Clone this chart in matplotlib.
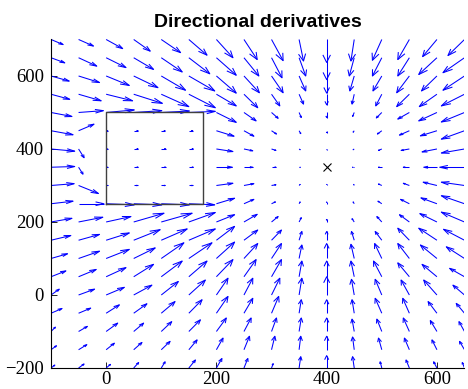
import numpy as np
import matplotlib
matplotlib.use('Agg')
import matplotlib.pyplot as plt
from matplotlib.collections import LineCollection

# grid where the derivatives were sampled
x_vals = [-100, -50, 0, 50, 100, 150, 200, 250, 300, 350, 400, 450, 500, 550, 600, 650]
y_vals = [700, 650, 600, 550, 500, 450, 400, 350, 300, 250, 200, 150, 100, 50, 0, -50, -100, -150, -200]

# x component, one row per y value (top to bottom)
u_rows = [
    [22, 27, 30, 30, 35, 33, 30, 24, 21, 8, 0, -6, -17, -21, -26, -30],
    [25, 33, 36, 36, 38, 38, 36, 27, 19, 12, 0, -9, -17, -21, -33, -39],
    [33, 38, 42, 44, 44, 47, 36, 28, 21, 12, 0, -8, -16, -23, -28, -39],
    [34, 41, 48, 52, 50, 48, 36, 25, 15, 8, 0, -4, -11, -23, -32, -42],
    [38, 45, 51, 51, 51, 48, 36, 22, 12, 4, 0, -3, -10, -21, -33, -42],
    [40, 28, 3, 8, 7, 7, 32, 18, 9, 3, 0, -2, -8, -18, -30, -42],
    [43, 10, 3, 8, 8, 8, 30, 16, 8, 2, 0, -2, -6, -15, -27, -42],
    [43, 8, 3, 8, 8, 8, 29, 16, 8, 2, 0, -3, -6, -11, -24, -45],
    [42, 36, 3, 7, 7, 7, 30, 18, 8, 2, 0, -1, -6, -11, -25, -42],
    [40, 46, 51, 51, 51, 47, 33, 18, 7, 2, 0, -2, -7, -16, -29, -42],
    [38, 44, 45, 55, 56, 48, 33, 24, 12, 4, 0, -4, -9, -18, -31, -42],
    [36, 38, 42, 48, 47, 48, 33, 25, 18, 5, 0, -5, -12, -21, -33, -38],
    [30, 38, 42, 39, 41, 42, 33, 25, 18, 5, 0, -6, -13, -21, -30, -33],
    [27, 32, 36, 36, 38, 33, 30, 22, 18, 5, 0, -6, -15, -21, -27, -27],
    [15, 29, 33, 33, 31, 30, 21, 16, 15, 5, 0, -5, -12, -15, -24, -21],
    [20, 22, 24, 24, 25, 24, 21, 16, 13, 4, 0, -4, -12, -12, -16, -15],
    [8, 16, 21, 18, 19, 21, 18, 13, 9, 4, 0, -4, -9, -11, -12, -10],
    [10, 15, 15, 15, 16, 15, 12, 10, 6, 3, 0, -3, -6, -9, -9, -9],
    [7, 10, 8, 9, 7, 12, 10, 7, 3, 3, 0, -3, -3, -6, -6, -4],
]

# y component, same layout
v_rows = [
    [-14, -18, -25, -32, -36, -43, -50, -55, -58, -59, -63, -59, -57, -55, -47, -44],
    [-14, -23, -27, -32, -39, -44, -48, -50, -55, -50, -60, -50, -50, -50, -46, -41],
    [-14, -18, -26, -32, -39, -41, -47, -46, -46, -41, -47, -41, -41, -46, -41, -39],
    [-14, -18, -18, -25, -34, -37, -32, -37, -32, -27, -29, -27, -32, -34, -34, -32],
    [-11, 5, 7, 5, 4, 3, -27, -23, -16, -14, -14, -11, -15, -18, -23, -26],
    [-11, 18, 0, 0, 0, 0, -15, -15, -9, -8, -5, -4, -9, -12, -14, -23],
    [-6, -24, 0, 0, 0, 0, -7, -5, -4, -2, -2, -2, -4, -4, -8, -11],
    [2, -19, 0, 0, 0, 0, 0, 0, 0, 0, 0, 0, 0, 0, 0, 0],
    [5, -22, 0, 0, 0, 0, 6, 5, 2, 3, 3, 3, 4, 6, 9, 9],
    [7, 0, -3, -3, -3, -3, 15, 12, 5, 5, 5, 5, 7, 12, 16, 22],
    [10, 13, 15, 24, 24, 26, 20, 21, 15, 12, 7, 9, 15, 20, 23, 27],
    [13, 16, 20, 29, 31, 31, 38, 28, 28, 24, 24, 24, 24, 33, 33, 30],
    [13, 20, 25, 29, 43, 43, 45, 41, 41, 37, 41, 39, 41, 41, 37, 32],
    [16, 20, 25, 34, 43, 43, 47, 47, 47, 43, 43, 43, 43, 38, 34, 23],
    [16, 16, 21, 27, 37, 41, 46, 46, 46, 46, 50, 43, 43, 41, 41, 27],
    [13, 14, 23, 26, 32, 37, 46, 41, 46, 37, 37, 37, 41, 41, 32, 27],
    [12, 14, 23, 23, 27, 32, 37, 37, 37, 37, 37, 34, 34, 37, 30, 27],
    [11, 14, 18, 20, 23, 27, 32, 37, 37, 37, 37, 35, 32, 32, 27, 23],
    [8, 11, 10, 15, 17, 22, 26, 26, 12, 31, 34, 31, 17, 22, 17, 15],
]

# obstacle outline and target point
box_x = [0, 175, 175, 0, 0]
box_y = [250, 250, 500, 500, 250]
target_x = [400]
target_y = [350]

X, Y = np.meshgrid(x_vals, y_vals)
U = np.array(u_rows, dtype=float)
V = np.array(v_rows, dtype=float)
x, y, u, v = X.ravel(), Y.ravel(), U.ravel(), V.ravel()

# matlab style arrows: shaft plus open head, sized from the vector
alpha, beta = 0.33, 0.33
segs = []
for xi, yi, ui, vi in zip(x, y, u, v):
    tx, ty = xi + ui, yi + vi
    segs.append([(xi, yi), (tx, ty)])
    segs.append([(tx - alpha * (ui + beta * vi), ty - alpha * (vi - beta * ui)),
                 (tx, ty),
                 (tx - alpha * (ui - beta * vi), ty - alpha * (vi + beta * ui))])

fig = plt.figure(figsize=(4.68, 3.89), dpi=100)
ax = fig.add_axes([0.109, 0.054, 0.8835, 0.8445])

ax.add_collection(LineCollection(segs, colors='blue', linewidths=0.75))
ax.plot(box_x, box_y, color='0.25', lw=1.0)
ax.plot(target_x, target_y, 'kx', ms=6, mew=0.8)

ax.set_xlim(-100, 650)
ax.set_ylim(-200, 700)
ax.set_xticks([0, 200, 400, 600])
ax.set_yticks([-200, 0, 200, 400, 600])
for side in ['top', 'right']:
    ax.spines[side].set_visible(False)
for side in ['left', 'bottom']:
    ax.spines[side].set_linewidth(0.8)
ax.tick_params(direction='in', length=4, width=0.6)
ax.tick_params(axis='x', pad=2)
ax.tick_params(axis='y', pad=5)
for lab in ax.get_xticklabels() + ax.get_yticklabels():
    lab.set_family('Liberation Serif')
    lab.set_fontsize(13.5)

ax.set_title('Directional derivatives', fontsize=14, fontweight='bold',
             family='Liberation Sans', pad=9)

fig.savefig('out.png', dpi=100)
